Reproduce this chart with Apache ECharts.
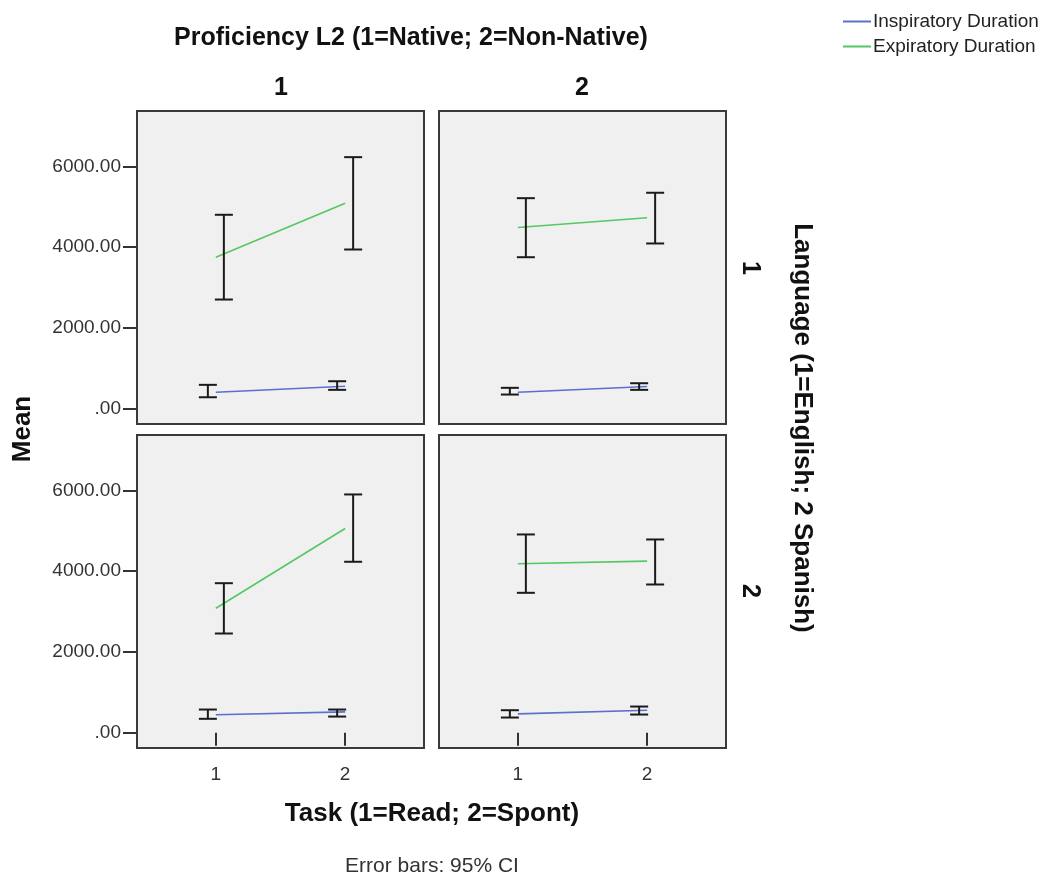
<!DOCTYPE html>
<html><head><meta charset="utf-8">
<script src="https://cdn.jsdelivr.net/npm/echarts@6/dist/echarts.min.js"></script>
<style>html,body{margin:0;padding:0;background:#fff}#c{width:1047px;height:883px}</style>
</head><body><div id="c"></div>
<script>
// Task categories (x) and y tick labels
var tasks = [1, 2];
var yTicks = [0, 2000, 4000, 6000];
// Panels: [Lang1/Native, Lang1/NonNative, Lang2/Native, Lang2/NonNative]
var inspMean = [[411, 559], [411, 552], [446, 520], [470, 560]];
var inspLow  = [[287, 470], [354, 470], [347, 403], [379, 453]];
var inspHigh = [[594, 683], [520, 634], [577, 577], [560, 651]];
var expMean  = [[3752, 5089], [4488, 4728], [3084, 5057], [4183, 4248]];
var expLow   = [[2705, 3943], [3752, 4092], [2458, 4233], [3465, 3671]];
var expHigh  = [[4802, 6228], [5213, 5347], [3703, 5899], [4909, 4785]];

var FONT = '"Liberation Sans", Arial, sans-serif';
var BLUE = '#5a6fd0', GREEN = '#55c764';
var gridPos = [
  {left: 137, top: 111}, {left: 439, top: 111},
  {left: 137, top: 435}, {left: 439, top: 435}
];
var grids = [], xAxes = [], yAxes = [], series = [];
gridPos.forEach(function (g, i) {
  grids.push({left: g.left, top: g.top, width: 287, height: 313, show: true,
    backgroundColor: '#f0f0f0', borderColor: '#3a3a3a', borderWidth: 2, containLabel: false});
  var bottom = i >= 2, leftCol = (i % 2 === 0);
  xAxes.push({type: 'value', gridIndex: i, min: 0.39, max: 2.61,
    axisLine: {show: false}, splitLine: {show: false},
    axisTick: {show: bottom, customValues: tasks, length: 13, lineStyle: {color: '#333', width: 2}},
    axisLabel: {show: bottom, customValues: tasks, margin: 17, fontSize: 19, color: '#333', fontFamily: FONT}});
  yAxes.push({type: 'value', gridIndex: i, min: -375, max: 7370,
    axisLine: {show: false}, splitLine: {show: false},
    axisTick: {show: leftCol, customValues: yTicks, length: 14, lineStyle: {color: '#333', width: 2}},
    axisLabel: {show: leftCol, customValues: yTicks, margin: 16, fontSize: 19, color: '#333', fontFamily: FONT,
      formatter: function (v) { return v === 0 ? '.00' : v.toFixed(2); }}});
  var insp = tasks.map(function (t, k) { return [t, inspMean[i][k]]; });
  var exp = tasks.map(function (t, k) { return [t, expMean[i][k]]; });
  series.push({type: 'line', name: 'Inspiratory Duration', xAxisIndex: i, yAxisIndex: i, data: insp,
    showSymbol: false, symbol: 'none', lineStyle: {color: BLUE, width: 1.6}, itemStyle: {color: BLUE}, z: 3, silent: true});
  series.push({type: 'line', name: 'Expiratory Duration', xAxisIndex: i, yAxisIndex: i, data: exp,
    showSymbol: false, symbol: 'none', lineStyle: {color: GREEN, width: 1.6}, itemStyle: {color: GREEN}, z: 3, silent: true});
  [[inspLow, inspHigh, -8], [expLow, expHigh, 8]].forEach(function (e) {
    var lo = e[0], hi = e[1], off = e[2];
    series.push({type: 'custom', xAxisIndex: i, yAxisIndex: i, z: 4, silent: true,
      data: tasks.map(function (t, k) { return [t, lo[i][k], hi[i][k]]; }),
      encode: {x: 0, y: [1, 2]},
      renderItem: function (params, api) {
        var a = api.coord([api.value(0), api.value(2)]);
        var b = api.coord([api.value(0), api.value(1)]);
        var x = a[0] + off, hw = 9;
        var st = {stroke: '#1a1a1a', lineWidth: 2};
        return {type: 'group', children: [
          {type: 'line', shape: {x1: x, y1: a[1], x2: x, y2: b[1]}, style: st},
          {type: 'line', shape: {x1: x - hw, y1: a[1], x2: x + hw, y2: a[1]}, style: st},
          {type: 'line', shape: {x1: x - hw, y1: b[1], x2: x + hw, y2: b[1]}, style: st}
        ]};
      }});
  });
});

function txt(x, y, s, size, bold, rot, color) {
  return {type: 'text', x: x, y: y, rotation: rot || 0, z: 10,
    style: {text: s, fontSize: size, fontWeight: bold ? 'bold' : 'normal', fontFamily: FONT,
      fill: color || '#111', align: 'center', verticalAlign: 'middle'}};
}

var chart = echarts.init(document.getElementById('c'), null, {renderer: 'canvas'});
chart.setOption({
  animation: false,
  backgroundColor: '#ffffff',
  grid: grids, xAxis: xAxes, yAxis: yAxes, series: series,
  legend: {show: true, orient: 'vertical', left: 843, top: 12, itemWidth: 28, itemHeight: 2, itemGap: 6,
    padding: 0, icon: 'rect', data: ['Inspiratory Duration', 'Expiratory Duration'],
    textStyle: {fontSize: 19, color: '#222', fontFamily: FONT, padding: [0, 0, 0, -3]}},
  graphic: [
    txt(411, 38, 'Proficiency L2 (1=Native; 2=Non-Native)', 25, true),
    txt(281, 88, '1', 25, true),
    txt(582, 88, '2', 25, true),
    txt(750, 268, '1', 25, true, -Math.PI / 2),
    txt(750, 591, '2', 25, true, -Math.PI / 2),
    txt(802, 428, 'Language (1=English; 2 Spanish)', 26, true, -Math.PI / 2),
    txt(23, 429, 'Mean', 26, true, Math.PI / 2),
    txt(432, 814, 'Task (1=Read; 2=Spont)', 26, true),
    txt(432, 866, 'Error bars: 95% CI', 21, false, 0, '#333')
  ]
});
</script></body></html>
